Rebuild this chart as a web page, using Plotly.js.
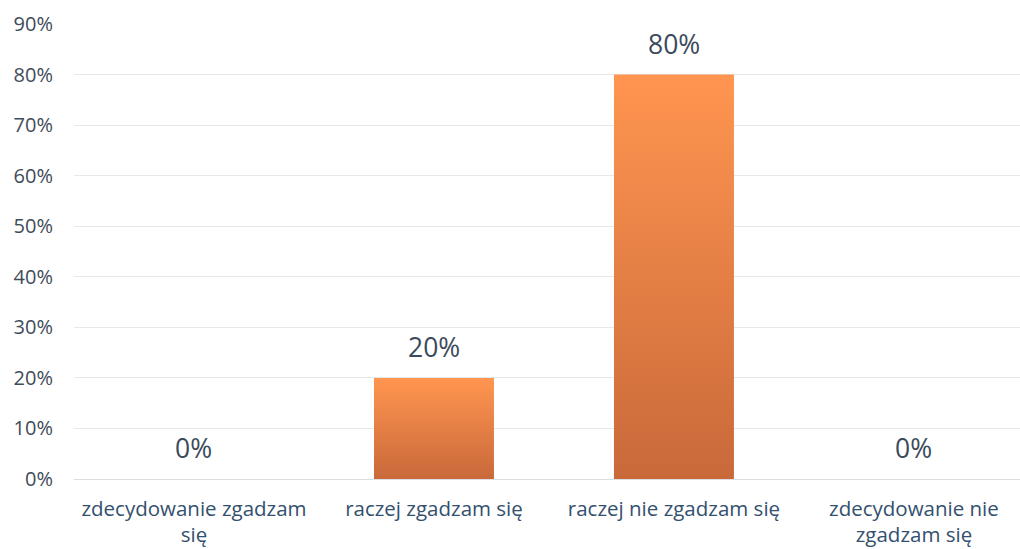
<!DOCTYPE html>
<html>
<head>
<meta charset="utf-8">
<script src="https://cdn.plot.ly/plotly-3.0.1.min.js"></script>
<style>
html,body{margin:0;padding:0;background:#fff;overflow:hidden;}
#chart{width:1020px;height:549px;}
</style>
</head>
<body>
<div id="chart"></div>
<script>
const categories = ["zdecydowanie zgadzam<br>się", "raczej zgadzam się", "raczej nie zgadzam się", "zdecydowanie nie<br>zgadzam się"];
const values = [0, 20, 80, 0];
const labels = values.map(v => v + "%");

const FONT = "'Open Sans', sans-serif";

const trace = {
  type: "bar",
  x: categories,
  y: values,
  width: 0.5,
  marker: {color: "#E5803F", line: {width: 0}},
  hoverinfo: "none"
};

const annotations = categories.map((c, i) => ({
  x: c, y: values[i], text: labels[i],
  xref: "x", yref: "y", showarrow: false,
  yanchor: "bottom", yshift: 11,
  font: {family: FONT, size: 26.5, color: "#3b4a5c"}
}));

const layout = {
  width: 1020, height: 549,
  margin: {l: 74, r: 0, t: 24, b: 70},
  paper_bgcolor: "#ffffff", plot_bgcolor: "#ffffff",
  showlegend: false,
  font: {family: FONT},
  xaxis: {
    type: "category",
    range: [-0.5, 3.442],
    showgrid: false, showline: false, zeroline: false,
    ticks: "",
    tickfont: {family: FONT, size: 20.5, color: "#33506e"},
    ticklabelstandoff: 15
  },
  yaxis: {
    range: [0, 90],
    dtick: 10, tick0: 0,
    ticksuffix: "%",
    showgrid: true, gridcolor: "#e6e8ea", gridwidth: 1,
    zeroline: true, zerolinecolor: "#dcdfe2", zerolinewidth: 1,
    showline: false, ticks: "",
    tickfont: {family: FONT, size: 20, color: "#3f4b59"},
    ticklabelstandoff: 20
  },
  annotations: annotations
};

Plotly.newPlot("chart", [trace], layout, {staticPlot: true, displayModeBar: false}).then(gd => {
  const svg = gd.querySelector("svg.main-svg");
  const ns = "http://www.w3.org/2000/svg";
  let defs = svg.querySelector("defs");
  if (!defs) { defs = document.createElementNS(ns, "defs"); svg.insertBefore(defs, svg.firstChild); }
  const g = document.createElementNS(ns, "linearGradient");
  g.setAttribute("id", "barGrad");
  g.setAttribute("x1", "0"); g.setAttribute("y1", "0");
  g.setAttribute("x2", "0"); g.setAttribute("y2", "1");
  [["0", "#FF9550"], ["1", "#C9693A"]].forEach(([o, c]) => {
    const s = document.createElementNS(ns, "stop");
    s.setAttribute("offset", o); s.setAttribute("stop-color", c);
    g.appendChild(s);
  });
  defs.appendChild(g);
  gd.querySelectorAll(".bars path").forEach(p => { p.style.fill = "url(#barGrad)"; });
});
</script>
</body>
</html>
